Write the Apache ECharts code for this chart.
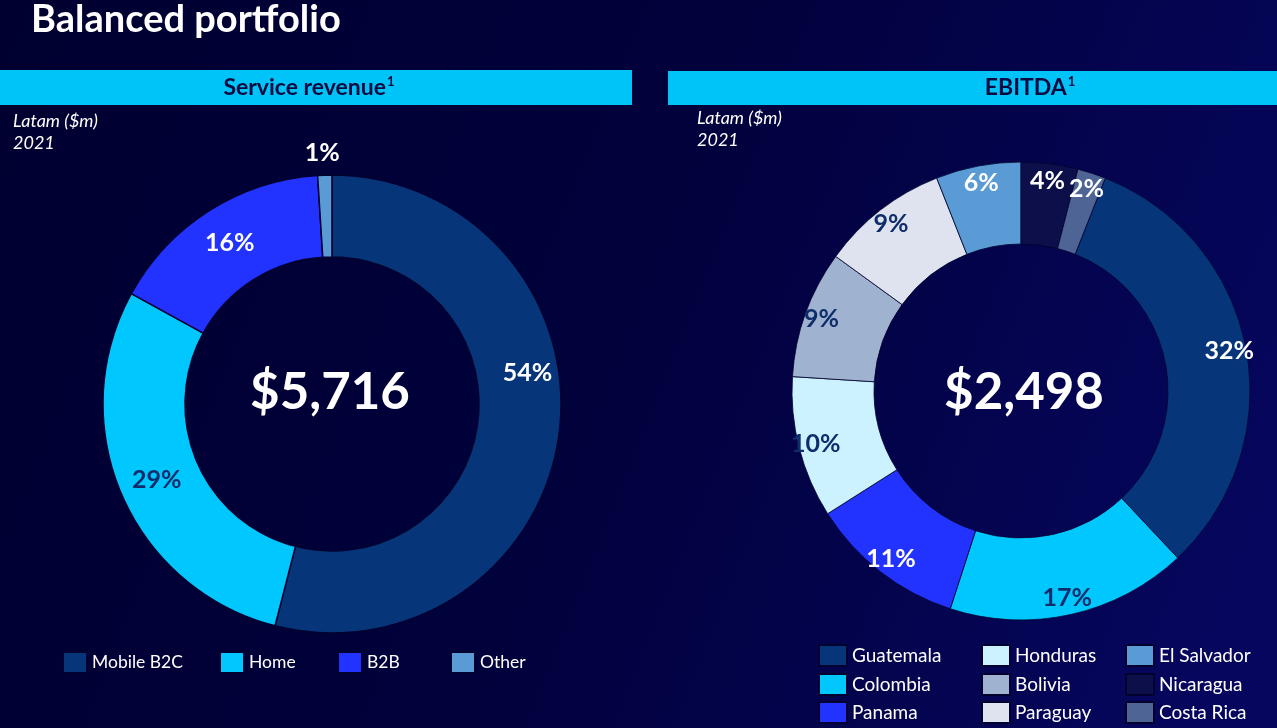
<!DOCTYPE html>
<html>
<head>
<meta charset="utf-8">
<script src="https://cdn.jsdelivr.net/npm/echarts@6/dist/echarts.min.js"></script>
<style>
html,body{margin:0;padding:0;background:#000033;}
#chart{width:1277px;height:728px;}
</style>
</head>
<body>
<div id="chart"></div>
<script>
// ---- data ----
const pageTitle = 'Balanced portfolio';
const leftHeader = 'Service revenue';
const rightHeader = 'EBITDA';
const unitLabel = 'Latam ($m)';
const yearLabel = '2021';

const revenueCategories = ['Mobile B2C', 'Home', 'B2B', 'Other'];
const revenueValues = [54, 29, 16, 1];
const revenueTotal = '$5,716';

const ebitdaCategories = ['Guatemala', 'Colombia', 'Panama', 'Honduras', 'Bolivia', 'Paraguay', 'El Salvador', 'Nicaragua', 'Costa Rica'];
const ebitdaValues = [32, 17, 11, 10, 9, 9, 6, 4, 2];
const ebitdaTotal = '$2,498';

// ---- styles ----
const FONT = 'Lato, "Open Sans", sans-serif';
const DARK_TXT = '#0f2d6b';
const revenueColors = ['#06357a', '#00c8ff', '#2233ff', '#5b9bd5'];
const revenueLabelColors = ['#ffffff', DARK_TXT, '#ffffff', '#ffffff'];
const ebitdaColors = ['#06357a', '#00c8ff', '#2233ff', '#ccf2ff', '#9fb2d0', '#dfe3ef', '#5b9bd5', '#0c0f4a', '#4e6494'];
const ebitdaLabelColors = ['#ffffff', DARK_TXT, '#ffffff', DARK_TXT, DARK_TXT, DARK_TXT, '#ffffff', '#ffffff', '#ffffff'];

const chart = echarts.init(document.getElementById('chart'), null, {renderer: 'canvas'});

const ebTotalVal = ebitdaValues.reduce((a, b) => a + b, 0);
// EBITDA pie: Guatemala begins after the last two slices that sit at top
const ebStart = 90 - (ebitdaValues[7] + ebitdaValues[8]) / ebTotalVal * 360;

const revenueData = revenueCategories.map((n, i) => {
  const d = {
    name: n, value: revenueValues[i],
    itemStyle: {color: revenueColors[i]},
    label: {color: revenueLabelColors[i]}
  };
  if (i === 0) d.label.offset = [6, -55];
  if (i === 3) {
    d.label = {position: 'outside', color: '#ffffff', offset: [20, -16]};
    d.labelLine = {show: false, length: 6, length2: 0};
  }
  return d;
});

const ebitdaData = ebitdaCategories.map((n, i) => ({
  name: n, value: ebitdaValues[i],
  itemStyle: {color: ebitdaColors[i]}
}));
const ebitdaLabelData = ebitdaCategories.map((n, i) => ({
  name: n, value: ebitdaValues[i],
  itemStyle: {color: 'rgba(0,0,0,0)'},
  label: {color: ebitdaLabelColors[i]}
}));

const pctLabel = {
  show: true, position: 'inside', fontFamily: FONT, fontWeight: 'bold', fontSize: 25,
  formatter: p => p.value + '%'
};

const legendBase = {
  itemWidth: 28, itemHeight: 21, icon: 'rect', padding: 0, orient: 'horizontal',
  textStyle: {color: '#ffffff', fontSize: 19, fontFamily: FONT},
  selectedMode: false
};
const revLegendLefts = [62, 219, 337, 450];
const ebLegendLefts = [818, 981, 1125];
const ebLegendTops = [644, 673, 701];

const legends = revenueCategories.map((n, i) => Object.assign({}, legendBase, {
  data: [n], left: revLegendLefts[i], top: 651, itemWidth: 24,
  textStyle: {color: '#ffffff', fontSize: 17.5, fontFamily: FONT}
}));
ebitdaCategories.forEach((n, i) => {
  legends.push(Object.assign({}, legendBase, {
    data: [n], left: ebLegendLefts[Math.floor(i / 3)], top: ebLegendTops[i % 3]
  }));
});

const supRich = {s: {fontSize: 13, fontWeight: 'bold', color: '#0a0a40', fontFamily: FONT, verticalAlign: 'top', padding: [0, 0, 12, 1]}};

const option = {
  backgroundColor: {
    type: 'linear', x: 0, y: 0, x2: 1, y2: 0.7,
    colorStops: [{offset: 0, color: '#000030'}, {offset: 0.5, color: '#01013c'}, {offset: 1, color: '#06065e'}]
  },
  animation: false,
  title: [
    {text: pageTitle, left: 31, top: 1, padding: 0, textStyle: {color: '#ffffff', fontFamily: FONT, fontWeight: 'bold', fontSize: 38}},
    {text: leftHeader + '{s|1}', left: 309, top: 88, padding: 0, textAlign: 'center', textVerticalAlign: 'middle',
     textStyle: {color: '#0a0a40', fontFamily: FONT, fontWeight: 'bold', fontSize: 23, rich: supRich}},
    {text: rightHeader + '{s|1}', left: 1030, top: 88, padding: 0, textAlign: 'center', textVerticalAlign: 'middle',
     textStyle: {color: '#0a0a40', fontFamily: FONT, fontWeight: 'bold', fontSize: 23, rich: supRich}},
    {text: unitLabel + '\n' + yearLabel, left: 13, top: 110, padding: 0,
     textStyle: {color: '#ffffff', fontFamily: FONT, fontStyle: 'italic', fontSize: 18, lineHeight: 22, fontWeight: 'normal'}},
    {text: unitLabel + '\n' + yearLabel, left: 697, top: 107, padding: 0,
     textStyle: {color: '#ffffff', fontFamily: FONT, fontStyle: 'italic', fontSize: 18, lineHeight: 22, fontWeight: 'normal'}},
    {text: revenueTotal, left: 330, top: 393, padding: 0, textAlign: 'center', textVerticalAlign: 'middle',
     textStyle: {color: '#ffffff', fontFamily: FONT, fontWeight: 'bold', fontSize: 51}},
    {text: ebitdaTotal, left: 1024, top: 393, padding: 0, textAlign: 'center', textVerticalAlign: 'middle',
     textStyle: {color: '#ffffff', fontFamily: FONT, fontWeight: 'bold', fontSize: 51}}
  ],
  graphic: [
    {type: 'rect', left: 0, top: 70, shape: {width: 632, height: 35}, style: {fill: '#00c4f8'}, z: -1},
    {type: 'rect', left: 668, top: 71, shape: {width: 609, height: 34}, style: {fill: '#00c4f8'}, z: -1}
  ],
  legend: legends,
  series: [
    {
      type: 'pie', name: 'Service revenue', center: [332, 404], radius: [147, 229],
      startAngle: 90, clockwise: true, silent: true,
      itemStyle: {borderColor: '#020230', borderWidth: 1.5},
      label: pctLabel, labelLine: {show: false},
      data: revenueData
    },
    {
      type: 'pie', name: 'EBITDA', center: [1021, 391], radius: [147, 229],
      startAngle: ebStart, clockwise: true, silent: true,
      itemStyle: {borderColor: '#020230', borderWidth: 0.8},
      label: {show: false}, labelLine: {show: false},
      data: ebitdaData
    },
    {
      type: 'pie', name: 'EBITDA labels', center: [1021, 391], radius: [189, 229],
      startAngle: ebStart, clockwise: true, silent: true, z: 5,
      label: pctLabel, labelLine: {show: false},
      data: ebitdaLabelData
    }
  ]
};
chart.setOption(option);
</script>
</body>
</html>
